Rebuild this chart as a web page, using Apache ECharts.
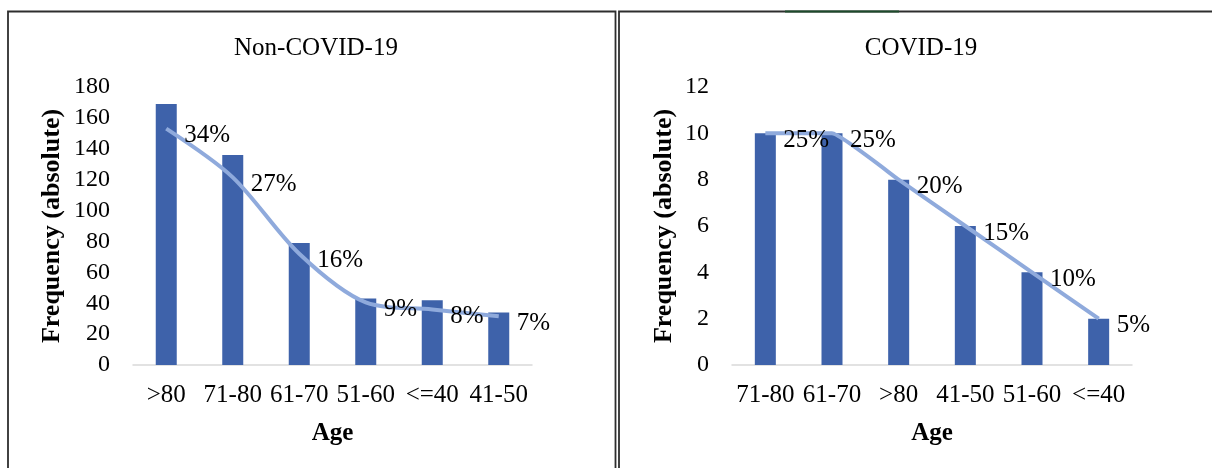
<!DOCTYPE html>
<html>
<head>
<meta charset="utf-8">
<script src="https://cdn.jsdelivr.net/npm/echarts@6/dist/echarts.min.js"></script>
<style>
  html, body { margin: 0; padding: 0; background: #fff; }
  #chart { width: 1212px; height: 468px; }
</style>
</head>
<body>
<div id="chart"></div>
<script>
// Age groups, absolute frequencies and percentage share per cohort
const nonCovidAges = ['>80', '71-80', '61-70', '51-60', '<=40', '41-50'];
const nonCovidCounts = [169, 136, 79, 43, 42, 34];
const nonCovidShare = [34, 27, 16, 9, 8, 7];

const covidAges = ['71-80', '61-70', '>80', '41-50', '51-60', '<=40'];
const covidCounts = [10, 10, 8, 6, 4, 2];
const covidShare = [25, 25, 20, 15, 10, 5];

const FONT = 'Liberation Serif';
const BAR = '#3E62AA';
const LINE = '#8FAADC';

const chart = echarts.init(document.getElementById('chart'), null, { renderer: 'canvas' });

function catAxis(idx, data) {
  return {
    type: 'category', gridIndex: idx, data: data,
    name: 'Age', nameLocation: 'middle', nameGap: 56,
    nameTextStyle: { fontFamily: FONT, fontSize: 25, fontWeight: 'bold', color: '#000' },
    axisLine: { lineStyle: { color: '#D9D9D9', width: 1.5 } },
    axisTick: { show: false },
    axisLabel: { interval: 0, margin: 18, fontFamily: FONT, fontSize: 25, color: '#000' }
  };
}
function valAxis(idx, max, interval, gap) {
  return {
    type: 'value', gridIndex: idx, min: 0, max: max, interval: interval,
    name: 'Frequency (absolute)', nameLocation: 'middle', nameGap: gap, nameRotate: 90,
    nameTextStyle: { fontFamily: FONT, fontSize: 26, fontWeight: 'bold', color: '#000' },
    axisLine: { show: false }, axisTick: { show: false }, splitLine: { show: false },
    axisLabel: { margin: 23, fontFamily: FONT, fontSize: 24, color: '#000' }
  };
}
function shareAxis(idx, max) {
  return { type: 'value', gridIndex: idx, min: 0, max: max, show: false,
           splitLine: { show: false } };
}
function shareLine(xi, yi, data, smooth) {
  return {
    type: 'line', xAxisIndex: xi, yAxisIndex: yi, data: data, smooth: smooth,
    symbol: 'circle', symbolSize: 2, showSymbol: true, z: 3,
    itemStyle: { color: 'rgba(0,0,0,0)', borderWidth: 0 },
    lineStyle: { color: LINE, width: 4 },
    label: {
      show: true, position: [19, 8], align: 'left', verticalAlign: 'middle',
      formatter: p => p.value + '%',
      fontFamily: FONT, fontSize: 25, color: '#000'
    },
    labelLayout: { hideOverlap: false }
  };
}
function bars(xi, yi, data) {
  return {
    type: 'bar', xAxisIndex: xi, yAxisIndex: yi, data: data,
    barWidth: 21, itemStyle: { color: BAR }, z: 2
  };
}

chart.setOption({
  animation: false,
  backgroundColor: '#fff',
  title: [
    { text: 'Non-COVID-19', left: 311, top: 31, textAlign: 'center',
      textStyle: { fontFamily: FONT, fontSize: 25, fontWeight: 'normal', color: '#000' } },
    { text: 'COVID-19', left: 916, top: 31, textAlign: 'center',
      textStyle: { fontFamily: FONT, fontSize: 25, fontWeight: 'normal', color: '#000' } }
  ],
  grid: [
    { left: 133, top: 87, width: 399, height: 278 },
    { left: 732, top: 87, width: 400, height: 278 }
  ],
  xAxis: [catAxis(0, nonCovidAges), catAxis(1, covidAges)],
  yAxis: [
    valAxis(0, 180, 20, 68),
    valAxis(1, 12, 2, 55),
    shareAxis(0, 40),
    shareAxis(1, 30)
  ],
  series: [
    bars(0, 0, nonCovidCounts),
    shareLine(0, 2, nonCovidShare, 0.3),
    bars(1, 1, covidCounts),
    shareLine(1, 3, covidShare, 0.1)
  ],
  graphic: [
    { type: 'rect', shape: { x: 8, y: 11.5, width: 607.5, height: 520 },
      style: { fill: 'none', stroke: '#2E2E2E', lineWidth: 1.8 }, silent: true },
    { type: 'rect', shape: { x: 619, y: 11.5, width: 620, height: 520 },
      style: { fill: 'none', stroke: '#2E2E2E', lineWidth: 1.8 }, silent: true },
    { type: 'line', shape: { x1: 785, y1: 11.5, x2: 899, y2: 11.5 },
      style: { stroke: '#1D4A2B', lineWidth: 1.8 }, silent: true }
  ]
});
</script>
</body>
</html>
